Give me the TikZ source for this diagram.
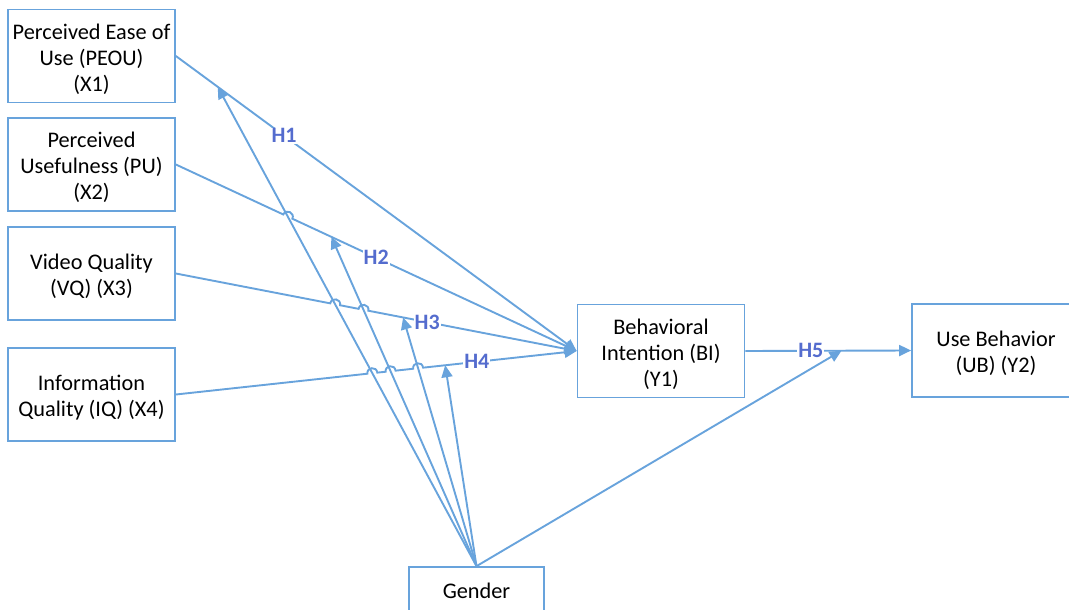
\documentclass[tikz,border=0pt]{standalone}
\usepackage{fontspec}
\setmainfont{Carlito}
\usetikzlibrary{arrows.meta,calc,intersections}
\definecolor{lc}{RGB}{104,163,220}
\definecolor{hc}{RGB}{84,108,206}
\newcommand\tp{\rule{0pt}{21.5pt}}
\begin{document}
\begin{tikzpicture}[x=1pt,y=1pt,
 box/.style={draw=lc,line width=1.7pt,align=center,inner sep=0pt,minimum width=167pt,minimum height=93pt,font=\fontsize{22.3}{26}\selectfont},
 conn/.style={draw=lc,line width=1.9pt,-{Triangle[length=12pt,width=11pt]}},
 hopto/.style={bend left=90,looseness=1.7},
 lab/.style={font=\fontsize{22}{22}\selectfont\bfseries,text=hc,fill=white,inner sep=1pt}]
\useasboundingbox (0,0) rectangle (1069,-610);
\node[box] (peou) at (91.5,-56) {\tp Perceived Ease of\\Use (PEOU)\\(X1)};
\node[box] (pu) at (91.5,-164.5) {\tp Perceived\\Usefulness (PU)\\(X2)};
\node[box] (vq) at (91.5,-273.5) {\tp Video Quality\\(VQ) (X3)};
\node[box] (iq) at (91.5,-394.5) {\tp Information\\Quality (IQ) (X4)};
\node[box] (bi) at (661,-351) {\tp Behavioral\\Intention (BI)\\(Y1)};
\node[box,minimum width=168pt] (ub) at (996,-350.5) {\tp Use Behavior\\(UB) (Y2)};
\node[box,minimum width=135pt,minimum height=48pt] (gender) at (476.5,-591) {Gender};
% moderation targets
\coordinate (m1) at ($(peou.east)!0.1045!(bi.west)$);
\coordinate (m2) at ($(pu.east)!0.388!(bi.west)$);
\coordinate (m3) at ($(vq.east)!0.567!(bi.west)$);
\coordinate (m4) at ($(iq.east)!0.672!(bi.west)$);
\coordinate (m5) at ($(bi.east)!0.58!(ub.west)$);
% intersections for line hops
\path[name path=h2] (pu.east) -- (bi.west);
\path[name path=h3] (vq.east) -- (bi.west);
\path[name path=h4] (iq.east) -- (bi.west);
\path[name path=g1] (gender.north) -- (m1);
\path[name path=g2] (gender.north) -- (m2);
\path[name path=g3] (gender.north) -- (m3);
\path[name intersections={of=h2 and g1,by=a21}];
\path[name intersections={of=h3 and g1,by=a31}];
\path[name intersections={of=h3 and g2,by=a32}];
\path[name intersections={of=h4 and g1,by=a41}];
\path[name intersections={of=h4 and g2,by=a42}];
\path[name intersections={of=h4 and g3,by=a43}];
% main paths
\draw[conn] (peou.east) -- (bi.west);
\draw[conn] (pu.east) -- ($(a21)!5pt!(pu.east)$) to[hopto] ($(a21)!5pt!(bi.west)$) -- (bi.west);
\draw[conn] (vq.east) -- ($(a31)!5pt!(vq.east)$) to[hopto] ($(a31)!5pt!(bi.west)$)
  -- ($(a32)!5pt!(vq.east)$) to[hopto] ($(a32)!5pt!(bi.west)$) -- (bi.west);
\draw[conn] (iq.east) -- ($(a41)!5pt!(iq.east)$) to[hopto] ($(a41)!5pt!(bi.west)$)
  -- ($(a42)!5pt!(iq.east)$) to[hopto] ($(a42)!5pt!(bi.west)$)
  -- ($(a43)!5pt!(iq.east)$) to[hopto] ($(a43)!5pt!(bi.west)$) -- (bi.west);
\draw[conn] (bi.east) -- (ub.west);
% moderation
\draw[conn] (gender.north) -- (m1);
\draw[conn] (gender.north) -- (m2);
\draw[conn] (gender.north) -- (m3);
\draw[conn] (gender.north) -- (m4);
\draw[conn] (gender.north) -- (m5);
% labels
\node[lab] (l1) at ($(peou.east)!0.27!(bi.west)$) {H1};
\node[lab] (l2) at ($(pu.east)!0.5!(bi.west)$) {H2};
\node[lab] (l3) at ($(vq.east)!0.627!(bi.west)$) {H3};
\node[lab] (l4) at ($(iq.east)!0.751!(bi.west)$) {H4};
\node[lab] (l5) at ($(bi.east)!0.395!(ub.west)$) {H5};
\end{tikzpicture}
\end{document}
